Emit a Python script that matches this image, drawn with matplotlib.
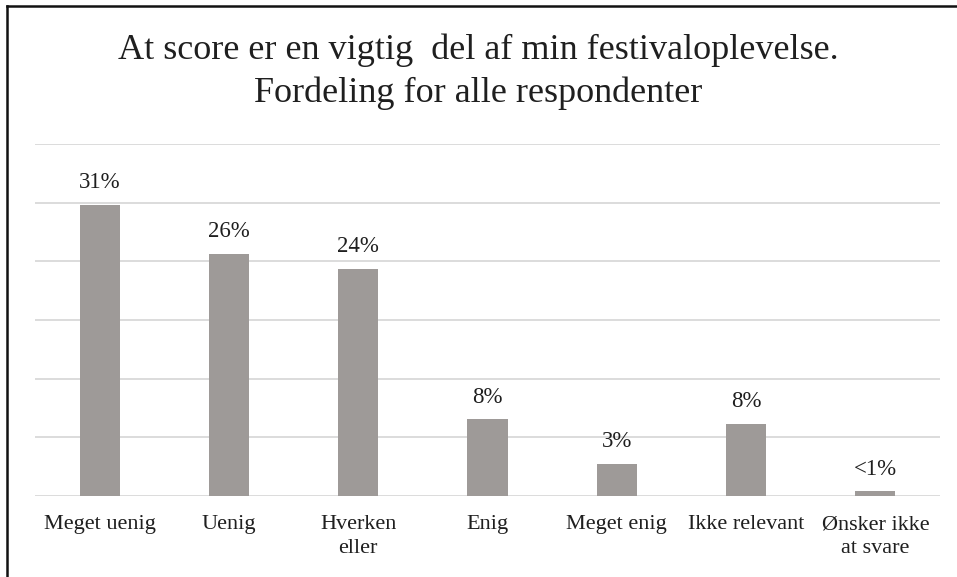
import matplotlib.pyplot as plt
import matplotlib.lines as mlines

categories = ["Meget uenig", "Uenig", "Hverken\neller", "Enig",
              "Meget enig", "Ikke relevant", "Ønsker ikke\nat svare"]
values = [30.8, 25.6, 24.0, 8.1, 3.4, 7.6, 0.5]
labels = ["31%", "26%", "24%", "8%", "3%", "8%", "<1%"]

grid_step = 6.2
serif = ["Liberation Serif", "DejaVu Serif"]
bar_color = "#9e9a98"
text_color = "#1f1f1f"

fig = plt.figure(figsize=(9.57, 5.77), dpi=100)
ax = fig.add_axes([35 / 957, 1 - 496 / 577, 905 / 957, 352 / 577])

x = range(len(categories))
ax.bar(x, values, width=0.31, color=bar_color, zorder=3)
for xi, v, lab in zip(x, values, labels):
    ax.annotate(lab, (xi, v), xytext=(0, 12), textcoords="offset points",
                ha="center", va="baseline", fontsize=16.5, family=serif, color=text_color)

ax.set_xlim(-0.5, len(categories) - 0.5)
ax.set_ylim(0, grid_step * 6)
ax.set_yticks([grid_step * i for i in range(7)])
ax.yaxis.grid(True, color="#d9d9d9", linewidth=1.3, zorder=0)
ax.set_yticklabels([])
ax.tick_params(axis="y", length=0)
ax.set_xticks(list(x))
ax.set_xticklabels(categories, fontsize=16, family=serif, color=text_color,
                   linespacing=1.35)
ax.tick_params(axis="x", length=0, pad=14)
for s in ax.spines.values():
    s.set_visible(False)

fig.text(0.5, 1 - 59 / 577, "At score er en vigtig  del af min festivaloplevelse.",
         ha="center", va="baseline", fontsize=26, family=serif, color=text_color)
fig.text(0.5, 1 - 102 / 577, "Fordeling for alle respondenter",
         ha="center", va="baseline", fontsize=26, family=serif, color=text_color)

# outer frame: left and top edges
fig.add_artist(mlines.Line2D([7 / 957, 7 / 957], [0, 1 - 6 / 577],
                             transform=fig.transFigure, color="#111111", linewidth=1.8))
fig.add_artist(mlines.Line2D([7 / 957, 1], [1 - 6 / 577, 1 - 6 / 577],
                             transform=fig.transFigure, color="#111111", linewidth=1.8))

fig.savefig("out.png", dpi=100)
